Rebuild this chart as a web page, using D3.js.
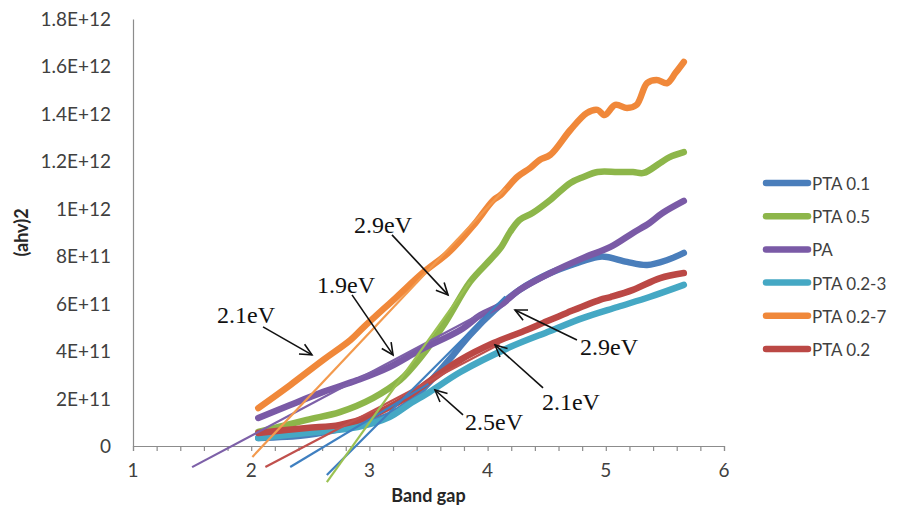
<!DOCTYPE html>
<html><head><meta charset="utf-8">
<script src="https://cdn.jsdelivr.net/npm/d3@7"></script>
<style>body{margin:0;background:#fff}svg{display:block}</style>
</head><body><svg id="c" width="897" height="508"></svg>
<script>
// ---- data (x = band gap, y = (ahv)^2) ----
const seriesNames = ["PTA 0.1","PTA 0.5","PA","PTA 0.2-3","PTA 0.2-7","PTA 0.2"];
const seriesColors = ["#4a7ebb","#8db64a","#7a5aa6","#45a8c4","#f0883a","#bb4845"];

const xPTA01 = [2.06,2.47,2.90,3.17,3.34,3.51,3.71,3.85,4.06,4.27,4.53,4.76,4.93,5.01,5.18,5.35,5.52,5.66];
const yPTA01 = [0.34e11,0.46e11,0.89e11,1.31e11,1.85e11,2.70e11,3.84e11,4.68e11,5.73e11,6.58e11,7.29e11,7.72e11,7.97e11,7.97e11,7.76e11,7.63e11,7.84e11,8.14e11];

const xPTA05 = [2.06,2.47,2.75,3.03,3.26,3.43,3.64,3.85,4.02,4.11,4.19,4.27,4.38,4.53,4.70,4.81,4.93,5.10,5.23,5.32,5.46,5.54,5.66];
const yPTA05 = [0.59e11,1.10e11,1.43e11,2.02e11,2.78e11,3.71e11,5.19e11,6.91e11,7.84e11,8.35e11,9.02e11,9.53e11,9.82e11,10.37e11,11.09e11,11.34e11,11.55e11,11.55e11,11.55e11,11.51e11,11.93e11,12.18e11,12.39e11];

const xPA = [2.06,2.33,2.61,2.90,3.17,3.43,3.77,3.94,4.11,4.27,4.53,4.81,5.04,5.23,5.37,5.48,5.66];
const yPA = [1.18e11,1.73e11,2.28e11,2.78e11,3.33e11,4.05e11,4.89e11,5.52e11,5.94e11,6.58e11,7.29e11,7.93e11,8.39e11,8.98e11,9.40e11,9.82e11,10.33e11];

const xPTA023 = [2.06,2.47,2.90,3.17,3.34,3.51,3.77,4.19,4.53,4.81,5.10,5.37,5.66];
const yPTA023 = [0.34e11,0.55e11,0.80e11,1.22e11,1.77e11,2.28e11,3.12e11,4.17e11,4.85e11,5.40e11,5.86e11,6.28e11,6.79e11];

const xPTA027 = [2.06,2.33,2.61,2.84,2.95,3.23,3.45,3.68,3.88,4.05,4.11,4.25,4.36,4.44,4.53,4.70,4.84,4.93,4.99,5.08,5.18,5.26,5.35,5.43,5.52,5.59,5.66];
const yPTA027 = [1.60e11,2.57e11,3.63e11,4.47e11,5.00e11,6.28e11,7.29e11,8.20e11,9.30e11,10.37e11,10.58e11,11.34e11,11.72e11,12.06e11,12.27e11,13.32e11,14.04e11,14.17e11,13.95e11,14.38e11,14.25e11,14.38e11,15.30e11,15.43e11,15.30e11,15.73e11,16.19e11];

const xPTA02 = [2.06,2.47,2.75,3.03,3.32,3.43,3.77,4.05,4.33,4.47,4.67,4.95,5.04,5.23,5.46,5.66];
const yPTA02 = [0.55e11,0.76e11,0.89e11,1.31e11,2.07e11,2.45e11,3.63e11,4.34e11,4.89e11,5.19e11,5.61e11,6.16e11,6.28e11,6.58e11,7.08e11,7.29e11];

// tangent (extrapolation) lines: [start, end]
const tanNames = ["PA fit","PTA 0.2-7 fit","PTA 0.2 fit","PTA 0.2-3 fit","PTA 0.1 fit","PTA 0.5 fit"];
const tanColors = ["#7d60a8","#f39a4e","#c0504d","#3f7fc0","#3f7fc0","#9bc152"];
const tanX = [[1.50,4.00],[2.01,4.15],[2.12,4.10],[2.33,3.50],[2.64,4.15],[2.64,3.85]];
const tanY = [[-0.89e11,5.72e11],[-0.46e11,10.85e11],[-0.885e11,4.29e11],[-0.885e11,2.62e11],[-1.22e11,6.30e11],[-1.52e11,6.92e11]];

// annotations: label, text anchor (x,y), arrow from, arrow to
const annLabels = ["2.1eV","1.9eV","2.9eV","2.9eV","2.1eV","2.5eV"];
const annText = [[1.711,5.19e11],[2.557,6.45e11],[2.870,8.98e11],[4.782,3.84e11],[4.460,1.52e11],[3.809,0.67e11]];
const annFrom = [[2.10,5.02e11],[2.853,6.37e11],[3.191,8.90e11],[4.756,4.47e11],[4.469,2.45e11],[3.792,1.31e11]];
const annTo = [[2.514,3.84e11],[3.200,3.84e11],[3.665,6.37e11],[4.232,5.73e11],[4.063,4.26e11],[3.555,2.36e11]];

const xTickValues = [1,2,3,4,5,6];
const yTickValues = [0,2e11,4e11,6e11,8e11,1e12,1.2e12,1.4e12,1.6e12,1.8e12];
const yTickLabels = ["0","2E+11","4E+11","6E+11","8E+11","1E+12","1.2E+12","1.4E+12","1.6E+12","1.8E+12"];

// ---- drawing ----
const svg = d3.select("#c");
const x = d3.scaleLinear().domain([1,6]).range([133,724]);
const y = d3.scaleLinear().domain([0,1.8e12]).range([446,19]);
const font = "Lato, 'Open Sans', sans-serif";

// axes
const xAxis = d3.axisBottom(x).tickValues(d3.range(1,6.0001,0.2)).tickSize(5).tickFormat("");
const gx = svg.append("g").attr("transform",`translate(0,${y(0)})`).call(xAxis);
gx.select(".domain").attr("stroke","#8c8c8c").attr("stroke-width",1.2);
gx.selectAll(".tick line").attr("stroke","#8c8c8c").attr("stroke-width",1.2);
svg.append("g").selectAll("text").data(xTickValues).join("text")
  .attr("x",d=>x(d)).attr("y",y(0)+31).attr("text-anchor","middle")
  .attr("font-family",font).attr("font-size",19).attr("fill","#404040").text(d=>d);

const yAxis = d3.axisLeft(y).tickValues([]).tickSize(0);
const gy = svg.append("g").attr("transform",`translate(${x(1)},0)`).call(yAxis);
gy.select(".domain").attr("stroke","#8c8c8c").attr("stroke-width",1.2);
svg.append("g").selectAll("text").data(yTickValues).join("text")
  .attr("x",x(1)-22).attr("y",d=>y(d)+7).attr("text-anchor","end")
  .attr("font-family",font).attr("font-size",19).attr("fill","#404040")
  .text((d,i)=>yTickLabels[i]);

svg.append("text").attr("transform",`translate(28,${(y(0)+y(1.8e12))/2}) rotate(-90)`)
  .attr("text-anchor","middle").attr("font-family",font).attr("font-weight","bold")
  .attr("font-size",18).attr("fill","#262626").text("(ahv)2");
svg.append("text").attr("x",(x(1)+x(6))/2).attr("y",502).attr("text-anchor","middle")
  .attr("font-family",font).attr("font-weight","bold").attr("font-size",18)
  .attr("fill","#262626").text("Band gap");

// series
const seriesX = [xPTA01,xPTA05,xPA,xPTA023,xPTA027,xPTA02];
const seriesY = [yPTA01,yPTA05,yPA,yPTA023,yPTA027,yPTA02];
const line = d3.line().x(d=>x(d[0])).y(d=>y(d[1])).curve(d3.curveCatmullRom.alpha(0.5));
seriesNames.forEach((n,i)=>{
  const pts = seriesX[i].map((v,j)=>[v,seriesY[i][j]]);
  svg.append("path").datum(pts).attr("d",line).attr("fill","none")
    .attr("stroke",seriesColors[i]).attr("stroke-width",6.5)
    .attr("stroke-linecap","round").attr("stroke-linejoin","round");
});

// tangent lines
const straight = d3.line().x(d=>x(d[0])).y(d=>y(d[1]));
tanNames.forEach((n,i)=>{
  const pts = tanX[i].map((v,j)=>[v,tanY[i][j]]);
  svg.append("path").datum(pts).attr("d",straight).attr("fill","none")
    .attr("stroke",tanColors[i]).attr("stroke-width",2.2);
});

// annotations
annLabels.forEach((t,i)=>{
  svg.append("text").attr("x",x(annText[i][0])).attr("y",y(annText[i][1]))
    .attr("font-family","'Liberation Serif','Times New Roman',serif").attr("font-size",24)
    .attr("fill","#111").text(t);
  const x1=x(annFrom[i][0]), y1=y(annFrom[i][1]), x2=x(annTo[i][0]), y2=y(annTo[i][1]);
  const g = svg.append("g").attr("stroke","#111").attr("stroke-width",1.6).attr("fill","none");
  g.append("line").attr("x1",x1).attr("y1",y1).attr("x2",x2).attr("y2",y2);
  const ang = Math.atan2(y2-y1,x2-x1), L=13, a=0.45;
  const p = d3.path();
  p.moveTo(x2-L*Math.cos(ang-a), y2-L*Math.sin(ang-a));
  p.lineTo(x2,y2);
  p.lineTo(x2-L*Math.cos(ang+a), y2-L*Math.sin(ang+a));
  g.append("path").attr("d",p.toString());
});

// legend
const leg = svg.append("g");
seriesNames.forEach((n,i)=>{
  const yy = 183 + i*33.2;
  leg.append("line").attr("x1",766).attr("x2",808).attr("y1",yy).attr("y2",yy)
    .attr("stroke",seriesColors[i]).attr("stroke-width",6.5).attr("stroke-linecap","round");
  leg.append("text").attr("x",812).attr("y",yy+7).attr("font-family",font)
    .attr("font-size",17).attr("fill","#404040").text(n);
});
</script></body></html>
